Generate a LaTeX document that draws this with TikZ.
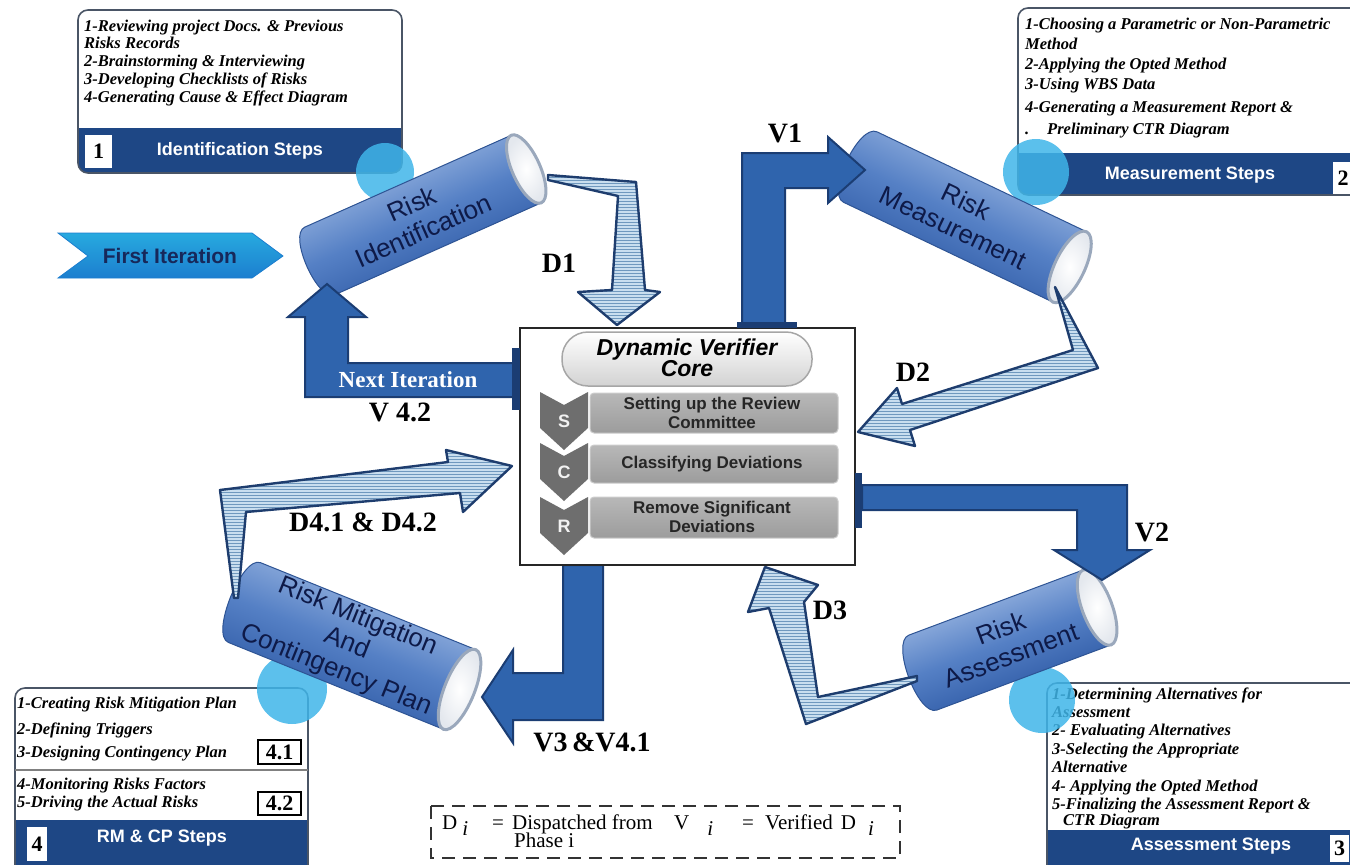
\documentclass[tikz,border=0pt]{standalone}
\usepackage{fontspec}
\setmainfont{Liberation Serif}
\setsansfont{Liberation Sans}
\usetikzlibrary{patterns}
\definecolor{band}{HTML}{1E4785}
\definecolor{circc}{HTML}{3FB5E9}
\definecolor{solidf}{HTML}{2F64AD}
\definecolor{solidd}{HTML}{1B3D73}
\definecolor{hatchf}{HTML}{C9DEEF}
\definecolor{hatchl}{HTML}{6F98BE}
\definecolor{hatchd}{HTML}{1E3D6E}
\definecolor{chevc}{HTML}{6E6E6E}
\definecolor{bartop}{HTML}{B8B8B8}
\definecolor{barbot}{HTML}{9C9C9C}
\definecolor{cyltxt}{HTML}{0E1A48}
\definecolor{cyltop}{HTML}{B9CEEE}
\definecolor{cylmid}{HTML}{5580C5}
\definecolor{cylbot}{HTML}{1E4A98}
\definecolor{cylline}{HTML}{2E5494}
\definecolor{facegray}{HTML}{E4E8EE}
\definecolor{facering}{HTML}{9AA8BC}
\definecolor{boxline}{HTML}{4A5566}
\definecolor{fitop}{HTML}{27AADF}
\definecolor{fibot}{HTML}{1C7ECF}
\definecolor{finavy}{HTML}{17285A}

\newcommand\stepbox[5]{%
  \begin{scope}
    \clip[rounded corners=10pt] (#1,#2) rectangle (#3,#4);
    \fill[white] (#1,#2) rectangle (#3,#4);
    \fill[band] (#1,#5) rectangle (#3,#4);
  \end{scope}
  \draw[boxline, line width=1.6pt, rounded corners=10pt] (#1,#2) rectangle (#3,#4);}

\newcommand\drawcyl[8]{%
  \begin{scope}[shift={(#2,#3)}, rotate=#4]
    \shade[top color=cyltop, bottom color=cylbot, middle color=cylmid, shading angle=#4, draw=cylline, line width=1pt]
      (-#5,-#6) -- (#5,-#6) -- (#5,#6) -- (-#5,#6)
      .. controls ({-#5-1.33*#7},#6) and ({-#5-1.33*#7},-#6) .. (-#5,-#6) -- cycle;
    \shade[inner color=white, outer color=facegray, draw=facering, line width=3pt] (#5,0) ellipse [x radius=#7, y radius=#6];
    \node[cyltext, transform shape] (#1) at ({-0.05*#5},0) {#8};
  \end{scope}}

\newcommand\chevron[3]{%
  \fill[chevc] (540,#2) -- (564,{#2+13}) -- (588,#2) -- (588,{#2+36}) -- (564,{#2+58}) -- (540,{#2+36}) -- cycle;
  \node[chevtxt] (#1) at (564,{#2+29}) {#3};}

\tikzset{
  boxtxt/.style={font=\fontsize{16.5}{18}\selectfont\bfseries\itshape, anchor=base west, inner sep=0pt},
  bandtxt/.style={font=\sffamily\bfseries\fontsize{18}{20}\selectfont, text=white, inner sep=0pt},
  numtxt/.style={font=\bfseries\fontsize{22}{22}\selectfont, inner sep=0pt},
  numbox/.style={fill=white, draw=black, line width=1.5pt},
  cyltext/.style={font=\sffamily\fontsize{26}{29}\selectfont, text=cyltxt, align=center, inner sep=0pt},
  lbl/.style={font=\bfseries\fontsize{28}{28}\selectfont, inner sep=0pt},
  hatched/.style={preaction={fill=hatchf}, pattern=horizontal lines, pattern color=hatchl, draw=hatchd, line width=2.4pt, line join=round},
  solidarr/.style={fill=solidf, draw=solidd, line width=2pt, line join=miter},
  spot/.style={fill=circc, opacity=0.85},
  barbox/.style={top color=bartop, bottom color=barbot, draw=gray!40, line width=1pt, rounded corners=4pt},
  bartxt/.style={font=\sffamily\bfseries\fontsize{17}{19}\selectfont, text=black!85, align=center, inner sep=0pt},
  chevtxt/.style={font=\sffamily\bfseries\fontsize{18}{18}\selectfont, text=white!90!gray, inner sep=0pt},
  legtxt/.style={font=\fontsize{21}{21}\selectfont, inner sep=0pt},
  tab/.style={fill=solidd},
}

\begin{document}
\begin{tikzpicture}[x=1pt,y=-1pt]
\path[use as bounding box] (0,0) rectangle (1350,865);
\clip (0,0) rectangle (1350,865);

% ---------- step boxes ----------
% Box 1
\stepbox{78}{10}{402}{173}{128}
\node[boxtxt] (b1l1) at (84,31) {1-Reviewing project Docs. \& Previous};
\node[boxtxt] (b1l2) at (84,48) {Risks Records};
\node[boxtxt] (b1l3) at (84,66) {2-Brainstorming \& Interviewing};
\node[boxtxt] (b1l4) at (84,84) {3-Developing Checklists of Risks};
\node[boxtxt] (b1l5) at (84,102) {4-Generating Cause \& Effect Diagram};
\fill[white] (85,135) rectangle (112,168);
\node[numtxt] (b1n) at (98.5,151.5) {1};
\node[bandtxt] (b1t) at (240,151) {Identification Steps};

% Box 2
\stepbox{1018}{8}{1362}{195}{153}
\node[boxtxt] (b2l1) at (1025,29) {1-Choosing a Parametric or Non-Parametric};
\node[boxtxt] (b2l2) at (1025,49) {Method};
\node[boxtxt] (b2l3) at (1025,69) {2-Applying the Opted Method};
\node[boxtxt] (b2l4) at (1025,89) {3-Using WBS Data};
\node[boxtxt] (b2l5) at (1025,112) {4-Generating a Measurement Report \&};
\node[boxtxt] (b2d) at (1025,134) {.};
\node[boxtxt] (b2l6) at (1047,134) {Preliminary CTR Diagram};
\fill[white] (1333,162) rectangle (1352,194);
\node[numtxt] (b2n) at (1343,178) {2};
\node[bandtxt] (b2t) at (1190,175) {Measurement Steps};

% Box 4
\stepbox{15}{688}{308}{875}{820}
\node[boxtxt] (b4l1) at (17,708) {1-Creating Risk Mitigation Plan};
\node[boxtxt] (b4l2) at (17,734) {2-Defining Triggers};
\node[boxtxt] (b4l3) at (17,757) {3-Designing Contingency Plan};
\draw[gray, line width=1.2pt] (15,770) -- (308,770);
\node[boxtxt] (b4l4) at (17,789) {4-Monitoring Risks Factors};
\node[boxtxt] (b4l5) at (17,807) {5-Driving the Actual Risks};
\draw[numbox] (258,740) rectangle (301,764);
\node[numtxt] (b4n1) at (279.5,752) {4.1};
\draw[numbox] (258,792) rectangle (301,815);
\node[numtxt] (b4n2) at (279.5,803.5) {4.2};
\fill[white] (27,827) rectangle (47,861);
\node[numtxt] (b4n) at (37,844) {4};
\node[bandtxt] (b4t) at (162,838) {RM \& CP Steps};

% Box 3
\stepbox{1047}{683}{1362}{875}{830}
\node[boxtxt] (b3l1) at (1052,699) {1-Determining Alternatives for};
\node[boxtxt] (b3l2) at (1052,717) {Assessment};
\node[boxtxt] (b3l3) at (1052,735) {2- Evaluating Alternatives};
\node[boxtxt] (b3l4) at (1052,754) {3-Selecting the Appropriate};
\node[boxtxt] (b3l5) at (1052,772) {Alternative};
\node[boxtxt] (b3l6) at (1052,791) {4- Applying the Opted Method};
\node[boxtxt] (b3l7) at (1052,809) {5-Finalizing the Assessment Report \&};
\node[boxtxt] (b3l8) at (1063,825) {CTR Diagram};
\fill[white] (1330,835) rectangle (1349,862);
\node[numtxt] (b3n) at (1339.5,848.5) {3};
\node[bandtxt] (b3t) at (1211,846) {Assessment Steps};

% ---------- spots ----------
\fill[spot] (385,172) circle [radius=29];
\fill[spot] (1036,172) circle [radius=33];
\fill[spot] (292,689) circle [radius=35];
\fill[spot] (1042,700) circle [radius=33];

% ---------- first iteration ----------
\shade[top color=fitop, bottom color=fibot, draw=fibot, line width=0.8pt]
  (58,233) -- (252,233) -- (283,256) -- (252,278) -- (58,278) -- (88,256) -- cycle;
\node[font=\sffamily\bfseries\fontsize{21}{21}\selectfont, text=finavy, inner sep=0pt] (first) at (170,256) {First Iteration};

% ---------- cylinders ----------
\drawcyl{ident}{423}{215}{24}{113}{37}{14}{Risk\\Identification}
\drawcyl{meas}{965}{217}{-25.5}{116}{39}{15}{Risk\\Measurement}
\drawcyl{assess}{1010}{640}{20.5}{93}{40}{15}{Risk\\Assessment}
\drawcyl{mitig}{352}{646}{-22}{116}{43}{15}{\fontsize{26}{26}\selectfont Risk Mitigation\\And\\Contingency Plan}

% ---------- solid arrows ----------
\draw[solidarr] (742,328) -- (742,153) -- (828,153) -- (828,137) -- (865,170) -- (828,203) -- (828,188) -- (785,188) -- (785,328) -- cycle;
\draw[solidarr] (862,485) -- (1127,485) -- (1127,550) -- (1150,550) -- (1102,580) -- (1054,550) -- (1077,550) -- (1077,510) -- (862,510) -- cycle;
\draw[solidarr] (563,565) -- (603,565) -- (603,720) -- (513,720) -- (513,743) -- (482,697) -- (513,650) -- (513,673) -- (563,673) -- cycle;
\draw[solidarr] (520,363) -- (348,363) -- (348,317) -- (366,317) -- (327,284) -- (288,317) -- (305,317) -- (305,397) -- (520,397) -- cycle;

% ---------- hatched arrows ----------
\draw[hatched] (548,175) -- (636,182) -- (645,290) -- (660,292) -- (617,325) -- (578,292) -- (612,290) -- (618,196) -- (548,180) -- cycle;
\draw[hatched] (1055,287) -- (1098,368) -- (910,430) -- (915,446) -- (858,432) -- (897,388) -- (902,404) -- (1073,350) -- cycle;
\draw[hatched] (917,676) -- (818,697) -- (804,602) -- (818,585) -- (765,567) -- (748,612) -- (769,608) -- (806,724) -- (917,681) -- cycle;
\draw[hatched] (234,598) -- (220,490) -- (448,462) -- (446,450) -- (512,466) -- (463,512) -- (460,493) -- (246,512) -- (238,598) -- cycle;

% ---------- central core ----------
\draw[fill=white, draw=black!85, line width=2.2pt] (520,328) rectangle (855,565);
\fill[tab] (512,348) rectangle (520,410);
\fill[tab] (737,322) rectangle (797,328);
\fill[tab] (855,473) rectangle (862,528);
\shade[top color=white, bottom color=gray!35, draw=gray!70, line width=1.5pt, rounded corners=26pt] (562,332) rectangle (812,386);
\node[font=\sffamily\bfseries\itshape\fontsize{23}{21}\selectfont, align=center, inner sep=0pt] (core) at (687,358) {Dynamic Verifier\\Core};
\shade[barbox] (590,393) rectangle (838,433);
\shade[barbox] (590,445) rectangle (838,483);
\shade[barbox] (590,497) rectangle (838,538);
\node[bartxt] (setting) at (712,413) {Setting up the Review\\Committee};
\node[bartxt] (classify) at (712,464) {Classifying Deviations};
\node[bartxt] (remove) at (712,517) {Remove Significant\\Deviations};
\chevron{chS}{392}{S}
\chevron{chC}{443}{C}
\chevron{chR}{497}{R}

% ---------- labels ----------
\node[lbl] (lD1) at (559,263) {D1};
\node[lbl] (lV1) at (785,133) {V1};
\node[lbl] (lD2) at (913,372) {D2};
\node[lbl] (lV2) at (1152,532) {V2};
\node[lbl] (lD3) at (830,610) {D3};
\node[lbl] (lV3) at (592,742) {V3\,\&V4.1};
\node[lbl] (lD4) at (363,522) {D4.1 \& D4.2};
\node[lbl] (lV42) at (400,412) {V 4.2};
\node[font=\bfseries\fontsize{23}{23}\selectfont, text=white, inner sep=0pt] (nextit) at (408,380) {Next Iteration};

% ---------- legend ----------
\draw[black!80, line width=1.8pt, dash pattern=on 13pt off 8pt] (431,806) rectangle (900,858);
\node[legtxt, anchor=base west] (legD) at (442,829) {D\hspace{5pt}\raisebox{-6pt}{\itshape i}};
\node[legtxt, anchor=base] (legEq1) at (498,829) {=};
\node[legtxt, anchor=base west] (legDisp) at (512,829) {Dispatched from};
\node[legtxt, anchor=base west] (legPh) at (514,847) {Phase i};
\node[legtxt, anchor=base west] (legV) at (674,829) {V\hspace{18pt}\raisebox{-6pt}{\itshape i}};
\node[legtxt, anchor=base] (legEq2) at (748,829) {=};
\node[legtxt, anchor=base west] (legVer) at (765,829) {Verified\hspace{8pt}D\hspace{12pt}\raisebox{-6pt}{\itshape i}};
\end{tikzpicture}
\end{document}
